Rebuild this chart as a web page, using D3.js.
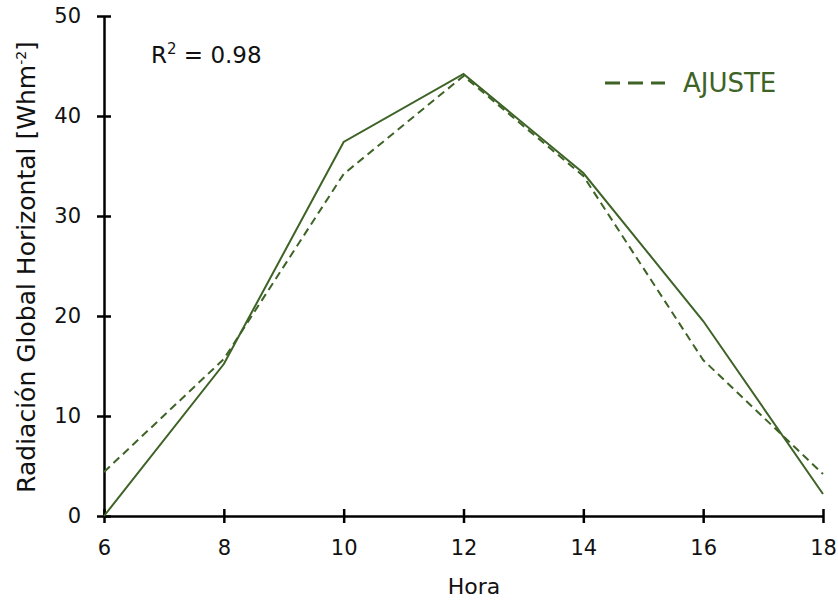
<!DOCTYPE html>
<html>
<head>
<meta charset="utf-8">
<script src="https://cdn.jsdelivr.net/npm/d3@7"></script>
<style>
  body { margin: 0; background: #fff; }
  text { font-family: "DejaVu Sans", "Noto Sans", sans-serif; }
</style>
</head>
<body>
<div id="chart"></div>
<script>
// data
let horas = [6, 8, 10, 12, 14, 16, 18];
let medido = [0, 15.2, 37.4, 44.2, 34.3, 19.5, 2.2];
let ajuste = [4.4, 15.7, 34.2, 44.0, 34.0, 15.6, 4.2];
let xTicks = [6, 8, 10, 12, 14, 16, 18];
let yTicks = [0, 10, 20, 30, 40, 50];

let green = "#3e6326";

let svg = d3.select("#chart")
    .append("svg")
        .attr("width", 838)
        .attr("height", 602)
;

let x = d3.scaleLinear().domain([6, 18]).range([104, 823]);
let y = d3.scaleLinear().domain([0, 50]).range([516, 16]);

// axes
let xAxis = svg.append("g")
    .attr("transform", "translate(0,516)")
    .call(d3.axisBottom(x).tickValues(xTicks).tickSize(7).tickSizeOuter(0).tickPadding(17));
let yAxis = svg.append("g")
    .attr("transform", "translate(104,0)")
    .call(d3.axisLeft(y).tickValues(yTicks).tickSize(7).tickSizeOuter(0).tickPadding(16));

[xAxis, yAxis].forEach(function(g){
    g.select(".domain").attr("stroke", "#000").attr("stroke-width", 2.5);
    g.selectAll(".tick text").attr("font-size", 21).attr("fill", "#111");
});
xAxis.selectAll(".tick line").attr("y1", -7).attr("y2", 7).attr("stroke", "#000").attr("stroke-width", 2.5);
yAxis.selectAll(".tick line").attr("x1", -7).attr("x2", 7).attr("stroke", "#000").attr("stroke-width", 2.5);

// lines
let line = d3.line()
    .x(function(d, i){ return x(horas[i]); })
    .y(function(d){ return y(d); });

svg.append("path")
    .attr("d", line(ajuste))
    .attr("fill", "none")
    .attr("stroke", green)
    .attr("stroke-width", 2)
    .attr("stroke-dasharray", "8,5");

svg.append("path")
    .attr("d", line(medido))
    .attr("fill", "none")
    .attr("stroke", green)
    .attr("stroke-width", 2);

// labels
svg.append("text")
    .attr("x", 474).attr("y", 594)
    .attr("text-anchor", "middle")
    .attr("font-size", 22)
    .attr("fill", "#111")
    .text("Hora");

let yt = svg.append("text")
    .attr("transform", "translate(35,267) rotate(-90)")
    .attr("text-anchor", "middle")
    .attr("font-size", 25)
    .attr("fill", "#111");
yt.append("tspan").text("Radiación Global Horizontal [Whm");
yt.append("tspan").attr("font-size", 14).attr("dy", -9).text("-2");
yt.append("tspan").attr("dy", 9).text("]");

let r2 = svg.append("text")
    .attr("x", 151).attr("y", 63)
    .attr("font-size", 23)
    .attr("fill", "#111");
r2.append("tspan").text("R");
r2.append("tspan").attr("font-size", 15).attr("dy", -9).text("2");
r2.append("tspan").attr("dy", 9).text(" = 0.98");

// legend
svg.append("line")
    .attr("x1", 605).attr("x2", 665)
    .attr("y1", 83).attr("y2", 83)
    .attr("stroke", green)
    .attr("stroke-width", 3)
    .attr("stroke-dasharray", "15,8");
svg.append("text")
    .attr("x", 683).attr("y", 92)
    .attr("font-size", 26)
    .attr("fill", green)
    .text("AJUSTE");
</script>
</body>
</html>
